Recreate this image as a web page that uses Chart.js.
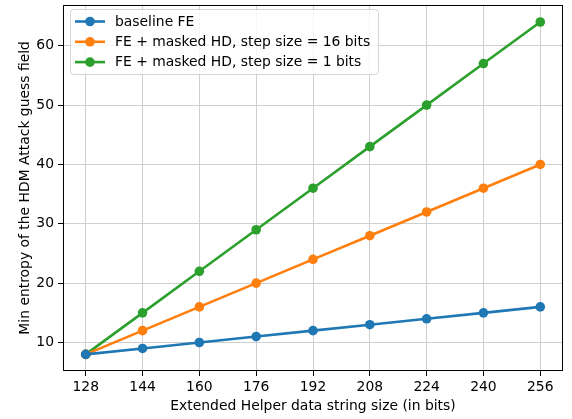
<!DOCTYPE html>
<html>
<head>
<meta charset="utf-8">
<script src="https://cdn.jsdelivr.net/npm/chart.js@4/dist/chart.umd.min.js"></script>
<style>
  html, body { margin: 0; padding: 0; background: #fff; }
  #wrap { width: 572px; height: 419px; }
</style>
</head>
<body>
<div id="wrap"><canvas id="chart" width="572" height="419"></canvas></div>
<script>
(function() {
    const stringSizes = [128, 144, 160, 176, 192, 208, 224, 240, 256];
    const baselineFE = [8, 9, 10, 11, 12, 13, 14, 15, 16];
    const maskedStep16 = [8, 12, 16, 20, 24, 28, 32, 36, 40];
    const maskedStep1 = [8, 15, 22, 29, 36, 43, 50, 57, 64];
    const yTicks = [10, 20, 30, 40, 50, 60];
    const seriesNames = ['baseline FE', 'FE + masked HD, step size = 16 bits', 'FE + masked HD, step size = 1 bits'];

    const FONT = 'DejaVu Sans';
    const FSIZE = 13.9;
    const toPoints = (ys) => stringSizes.map((x, i) => ({ x: x, y: ys[i] }));

    const makeSet = (label, ys, color) => ({
        label: label,
        data: toPoints(ys),
        borderColor: color,
        backgroundColor: color,
        borderWidth: 2.6,
        pointRadius: 4.8,
        pointHoverRadius: 4.8,
        pointBorderWidth: 0,
        tension: 0
    });

    // matplotlib-style legend box with line + marker samples
    const mplLegend = {
        id: 'mplLegend',
        afterDatasetsDraw(chart) {
            const ctx = chart.ctx;
            const x0 = 70.5, y0 = 9.5, w = 308, h = 65, r = 3;
            ctx.save();
            ctx.beginPath();
            ctx.roundRect(x0, y0, w, h, r);
            ctx.fillStyle = 'rgba(255,255,255,0.8)';
            ctx.fill();
            ctx.strokeStyle = '#d6d6d6';
            ctx.lineWidth = 1;
            ctx.stroke();
            ctx.font = FSIZE + 'px "' + FONT + '"';
            ctx.textBaseline = 'middle';
            chart.data.datasets.forEach((ds, i) => {
                const y = 21.5 + i * 20.3;
                ctx.strokeStyle = ds.borderColor;
                ctx.lineWidth = 2.6;
                ctx.beginPath();
                ctx.moveTo(75, y);
                ctx.lineTo(105, y);
                ctx.stroke();
                ctx.fillStyle = ds.borderColor;
                ctx.beginPath();
                ctx.arc(90, y, 4.8, 0, Math.PI * 2);
                ctx.fill();
                ctx.fillStyle = '#000';
                ctx.fillText(ds.label, 115, y + 0.5);
            });
            ctx.restore();
        }
    };

    // full box spines
    const frame = {
        id: 'frame',
        afterDraw(chart) {
            const a = chart.chartArea;
            const ctx = chart.ctx;
            ctx.save();
            ctx.strokeStyle = '#000';
            ctx.lineWidth = 1;
            ctx.strokeRect(Math.round(a.left) + 0.5, Math.round(a.top) + 0.5,
                Math.round(a.right - a.left) - 1, Math.round(a.bottom - a.top) - 1);
            ctx.restore();
        }
    };

    const ctx = document.getElementById('chart').getContext('2d');
    new Chart(ctx, {
        type: 'line',
        data: {
            datasets: [
                makeSet(seriesNames[0], baselineFE, '#1f77b4'),
                makeSet(seriesNames[1], maskedStep16, '#ff7f0e'),
                makeSet(seriesNames[2], maskedStep1, '#2ca02c')
            ]
        },
        options: {
            responsive: false,
            animation: false,
            events: [],
            layout: { padding: { left: 0, right: 9, top: 2, bottom: 0 } },
            plugins: {
                legend: { display: false },
                tooltip: { enabled: false }
            },
            scales: {
                x: {
                    type: 'linear',
                    min: 121.6,
                    max: 262.4,
                    afterBuildTicks: (scale) => { scale.ticks = stringSizes.map(v => ({ value: v })); },
                    afterFit: (scale) => {
                        scale.height = 48;
                        scale.paddingLeft = 0;
                        scale.paddingRight = 0;
                    },
                    grid: { color: '#cfcfcf', lineWidth: 1, tickColor: '#000', tickLength: 5 },
                    border: { display: false },
                    ticks: {
                        color: '#000',
                        padding: 3,
                        maxRotation: 0,
                        font: { family: FONT, size: FSIZE }
                    },
                    title: {
                        display: true,
                        text: 'Extended Helper data string size (in bits)',
                        color: '#000',
                        font: { family: FONT, size: FSIZE },
                        padding: { top: 0, bottom: 4 }
                    }
                },
                y: {
                    type: 'linear',
                    min: 5.2,
                    max: 66.9,
                    afterBuildTicks: (scale) => { scale.ticks = yTicks.map(v => ({ value: v })); },
                    afterFit: (scale) => {
                        scale.width = 63;
                        scale.paddingTop = 0;
                        scale.paddingBottom = 0;
                    },
                    grid: { color: '#cfcfcf', lineWidth: 1, tickColor: '#000', tickLength: 5 },
                    border: { display: false },
                    ticks: {
                        color: '#000',
                        padding: 4,
                        font: { family: FONT, size: FSIZE }
                    },
                    title: {
                        display: true,
                        text: 'Min entropy of the HDM Attack guess field',
                        color: '#000',
                        font: { family: FONT, size: FSIZE },
                        padding: { top: 17, bottom: 0 }
                    }
                }
            }
        },
        plugins: [mplLegend, frame]
    });
})();
</script>
</body>
</html>
